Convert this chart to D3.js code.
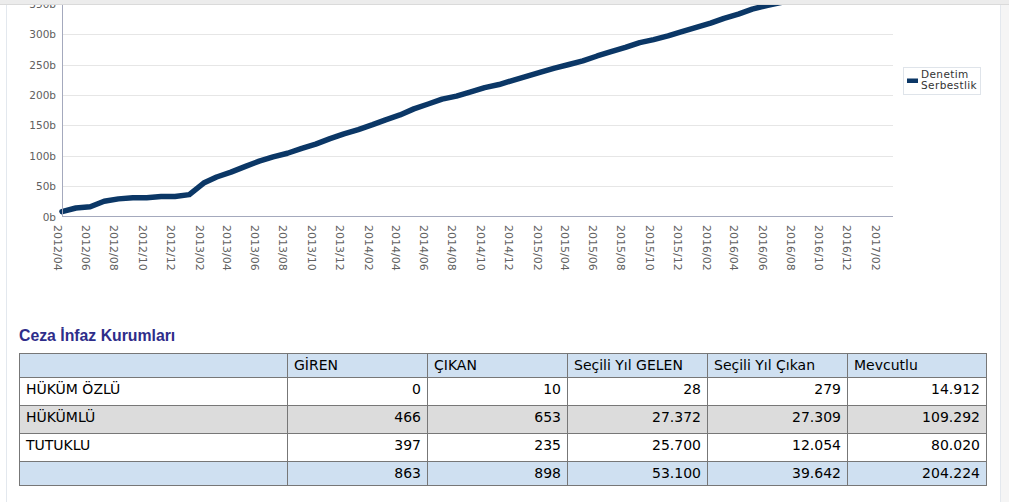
<!DOCTYPE html>
<html>
<head>
<meta charset="utf-8">
<script src="https://cdn.jsdelivr.net/npm/d3@7/dist/d3.min.js"></script>
<style>
  body { margin: 0; background: #fff; width: 1009px; height: 502px; overflow: hidden; position: relative; }
  #topband { position: absolute; left: 0; top: 0; width: 1009px; height: 4px; background: #ececec; border-bottom: 1px solid #dadada; z-index: 5; }
  #frame { position: absolute; left: 6px; top: 0; width: 993px; height: 502px; border-left: 1px solid #e3e8ee; border-right: 1px solid #e3e8ee; }
  #side { position: absolute; left: 1001px; top: 0; width: 8px; height: 502px; background: #f5f5f5; }
  #chart { position: absolute; left: 0; top: 0; }
  #title { position: absolute; left: 19px; top: 327px; font: bold 15.8px "Liberation Sans", Arial, sans-serif; color: #2e2d8a; }
  #tbl { position: absolute; left: 19px; top: 353px; border-collapse: collapse; table-layout: fixed; font: 14px "DejaVu Sans", Tahoma, sans-serif; color: #000; }
  #tbl td { border: 1px solid #777; padding: 3px 6px 0 6px; vertical-align: top; line-height: 16px; white-space: nowrap; overflow: hidden; }
  #tbl tr.head td, #tbl tr.total td { background: #cfe0f1; height: 20px; }
  #tbl tr.row td { height: 24px; }
  #tbl tr.alt td { background: #dcdcdc; }
  #tbl td.num { text-align: right; }
</style>
</head>
<body>
<div id="frame"></div>
<div id="side"></div>
<svg id="chart" width="1009" height="300"></svg>
<div id="topband"></div>
<div id="title">Ceza İnfaz Kurumları</div>
<table id="tbl"></table>
<script>
// Denetim Serbestlik, monthly totals (bin)
const months = [
  "2012/04","2012/05","2012/06","2012/07","2012/08","2012/09","2012/10","2012/11","2012/12",
  "2013/01","2013/02","2013/03","2013/04","2013/05","2013/06","2013/07","2013/08","2013/09","2013/10","2013/11","2013/12",
  "2014/01","2014/02","2014/03","2014/04","2014/05","2014/06","2014/07","2014/08","2014/09","2014/10","2014/11","2014/12",
  "2015/01","2015/02","2015/03","2015/04","2015/05","2015/06","2015/07","2015/08","2015/09","2015/10","2015/11","2015/12",
  "2016/01","2016/02","2016/03","2016/04","2016/05","2016/06","2016/07","2016/08"
];
const values = [
  8, 14, 16, 25, 29, 31, 31, 33, 33,
  36, 55, 65, 73, 82, 91, 98, 104, 112, 119, 128, 136,
  143, 151, 159, 167, 177, 185, 193, 198, 205, 212, 217, 224,
  231, 238, 244, 250, 256, 264, 271, 278, 286, 291, 297, 304,
  311, 318, 326, 333, 341, 347, 352, 358
];
const yTicks = [0, 50, 100, 150, 200, 250, 300, 350];
const seriesName = ["Denetim", "Serbestlik"];

const tableHeader = ["", "GİREN", "ÇIKAN", "Seçili Yıl GELEN", "Seçili Yıl Çıkan", "Mevcutlu"];
const rowLabels = ["HÜKÜM ÖZLÜ", "HÜKÜMLÜ", "TUTUKLU", ""];
const giren = ["0", "466", "397", "863"];
const cikan = ["10", "653", "235", "898"];
const seciliGelen = ["28", "27.372", "25.700", "53.100"];
const seciliCikan = ["279", "27.309", "12.054", "39.642"];
const mevcut = ["14.912", "109.292", "80.020", "204.224"];
const colWidths = [268, 140, 140, 140, 140, 139];

const parse = d3.timeParse("%Y/%m");
const fmt = d3.timeFormat("%Y/%m");
const data = months.map((m, i) => ({ date: parse(m), value: values[i] }));

const svg = d3.select("#chart");
const x = d3.scaleTime().domain([parse("2012/04"), parse("2017/03")]).range([62, 893]);
const y = d3.scaleLinear().domain([0, 350]).range([216.5, 3.7]);

// grid
svg.append("g").selectAll("line").data(yTicks.slice(1)).join("line")
  .attr("x1", 62).attr("x2", 893)
  .attr("y1", d => Math.round(y(d)) + 0.5).attr("y2", d => Math.round(y(d)) + 0.5)
  .attr("stroke", "#e6e6e6").attr("stroke-width", 1);

// y labels
svg.append("g").selectAll("text").data(yTicks).join("text")
  .attr("x", 56).attr("y", d => y(d) + 4)
  .attr("text-anchor", "end")
  .attr("font-family", "DejaVu Sans, Verdana, sans-serif").attr("font-size", 10.5)
  .attr("fill", "#606060")
  .text(d => d + "b");

// x labels, every second month from 2012/04
const xTicks = d3.timeMonth.range(parse("2012/04"), parse("2017/03"), 2);
svg.append("g").selectAll("text").data(xTicks).join("text")
  .attr("transform", d => `translate(${x(d) - 8},225) rotate(90)`)
  .attr("font-family", "DejaVu Sans, Verdana, sans-serif").attr("font-size", 11)
  .attr("fill", "#606060")
  .text(d => fmt(d));

// line
svg.append("clipPath").attr("id", "plot").append("rect")
  .attr("x", 55).attr("y", 0).attr("width", 845).attr("height", 225);
svg.append("path").datum(data)
  .attr("clip-path", "url(#plot)")
  .attr("fill", "none").attr("stroke", "#0b3766").attr("stroke-width", 5.5)
  .attr("stroke-linejoin", "round").attr("stroke-linecap", "round")
  .attr("d", d3.line().x(d => x(d.date)).y(d => y(d.value)));

// axes lines
svg.append("line").attr("x1", 62.5).attr("x2", 62.5).attr("y1", 0).attr("y2", 217)
  .attr("stroke", "#a4a9bd").attr("stroke-width", 1);
svg.append("line").attr("x1", 62).attr("x2", 893).attr("y1", 216.5).attr("y2", 216.5)
  .attr("stroke", "#a4a9bd").attr("stroke-width", 1);

// legend
const lg = svg.append("g");
lg.append("rect").attr("x", 903.5).attr("y", 67.5).attr("width", 77).attr("height", 27)
  .attr("fill", "#fff").attr("stroke", "#dfe4ea");
lg.append("rect").attr("x", 907).attr("y", 78.5).attr("width", 11).attr("height", 4.5).attr("fill", "#0b3766");
lg.selectAll("text").data(seriesName).join("text")
  .attr("x", 921).attr("y", (d, i) => 77.5 + i * 11)
  .attr("font-family", "DejaVu Sans, Verdana, sans-serif").attr("font-size", 10.5)
  .attr("letter-spacing", 0.4).attr("fill", "#333")
  .text(d => d);

// table
const tbl = d3.select("#tbl");
tbl.append("colgroup").selectAll("col").data(colWidths).join("col").style("width", d => d + "px");
tbl.append("tr").attr("class", "head").selectAll("td").data(tableHeader).join("td").text(d => d);
const rows = rowLabels.map((l, i) => [l, giren[i], cikan[i], seciliGelen[i], seciliCikan[i], mevcut[i]]);
tbl.selectAll("tr.body").data(rows).join("tr")
  .attr("class", (d, i) => i === 3 ? "total" : (i === 1 ? "row alt" : "row"))
  .selectAll("td").data(d => d).join("td")
  .attr("class", (d, i) => i > 0 ? "num" : null)
  .text(d => d);
</script>
</body>
</html>
